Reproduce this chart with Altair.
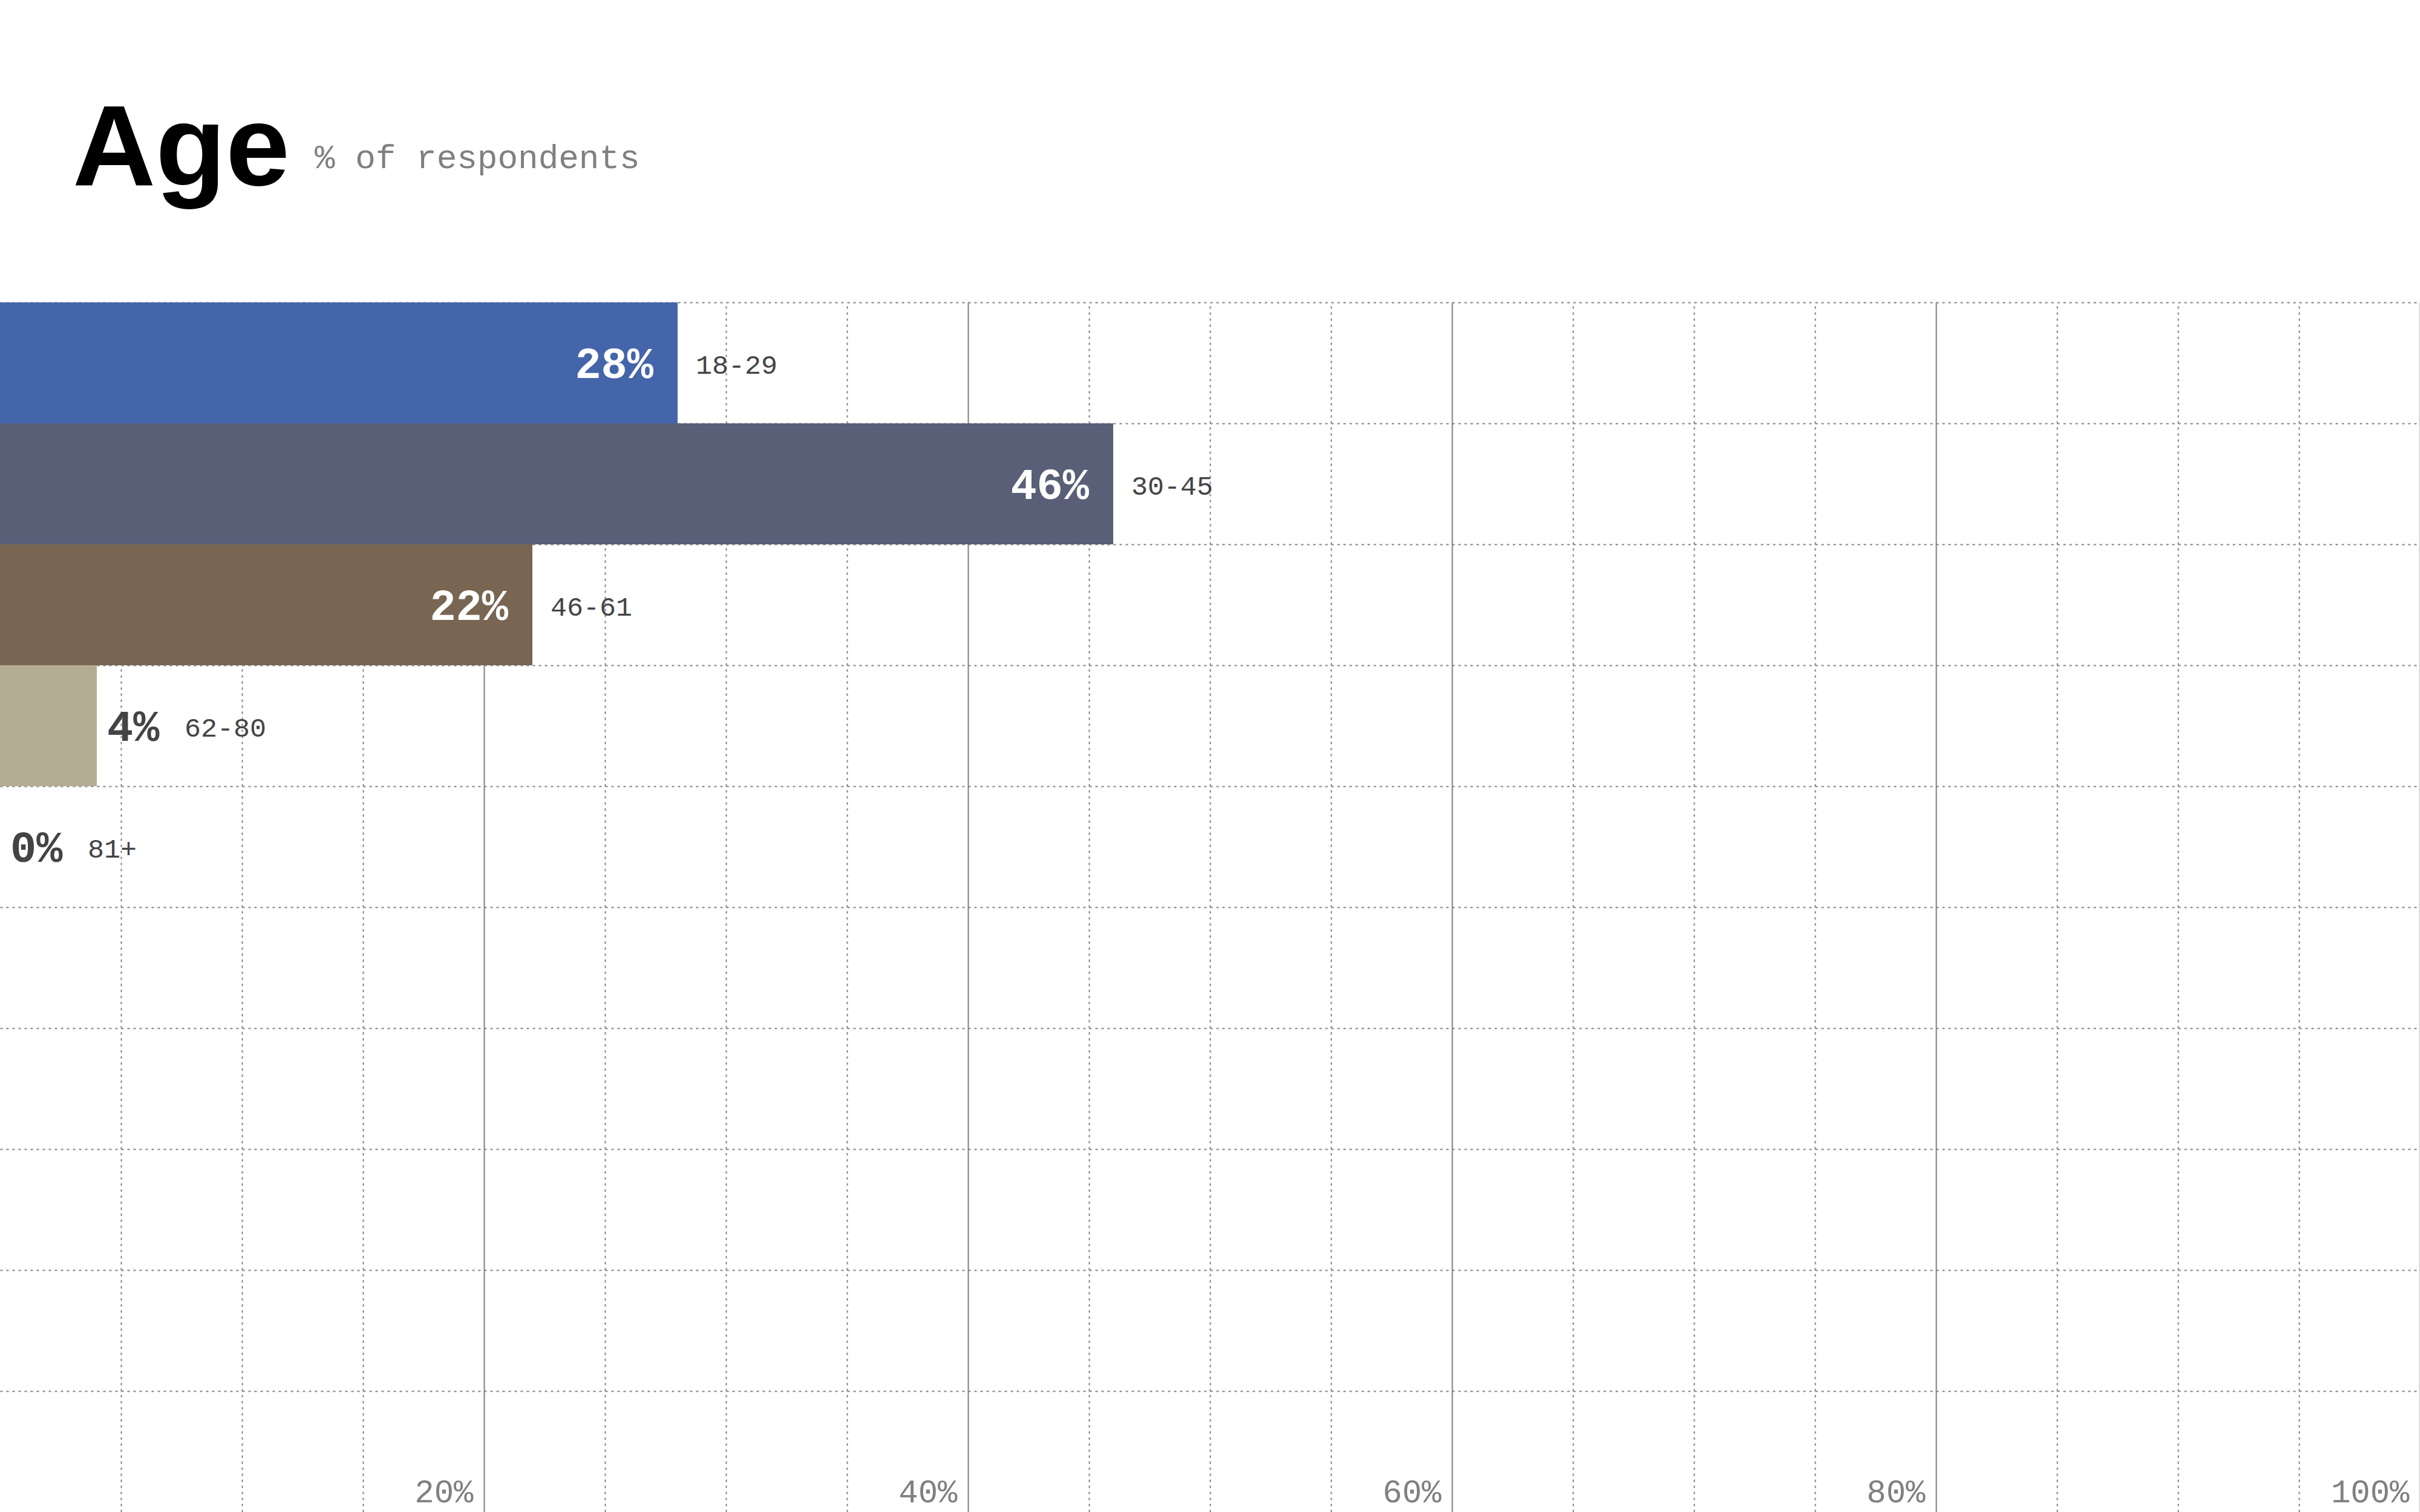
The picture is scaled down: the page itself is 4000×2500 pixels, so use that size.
import altair as alt
import pandas as pd

# ---- data ----
age_groups = ["18-29", "30-45", "46-61", "62-80", "81+"]
shares = [28, 46, 22, 4, 0]
empty_rows = ["row6", "row7", "row8", "row9", "row10"]
x_tick_values = list(range(5, 101, 5))
title_text = "Age"
subtitle_text = "% of respondents"

# ---- styles ----
bar_colors = ["#4465aa", "#585f77", "#786653", "#b4ad93", "#b4ad93"]
MONO = "Liberation Mono"
SANS = "Liberation Sans, Arial, sans-serif"
GRID = "#808080"

df = pd.DataFrame({"age": age_groups, "share": shares})

x_scale = alt.Scale(domain=[0, 100], nice=False, zero=True)
y_scale = alt.Scale(domain=age_groups + empty_rows, paddingInner=0, paddingOuter=0)

x_axis = alt.Axis(
    values=x_tick_values,
    title=None,
    domain=False,
    ticks=False,
    tickSize=0,
    grid=True,
    gridColor=GRID,
    gridWidth=2,
    gridDash={"condition": {"test": "datum.value % 20 === 0", "value": []}, "value": [4, 6]},
    labelExpr="datum.value % 20 === 0 ? datum.value + '%' : ''",
    labelAlign="right",
    labelOffset=-18,
    labelPadding=-17,
    labelBaseline="alphabetic",
    labelFont=MONO,
    labelFontSize=54,
    labelColor="#808080",
    labelFlush=False,
    labelOverlap=False,
    labelBound=False,
)
y_axis = alt.Axis(
    title=None,
    labels=False,
    ticks=False,
    domain=False,
    grid=True,
    bandPosition=0,
    gridDash=[4, 6],
    gridColor=GRID,
    gridWidth=2,
)

base = alt.Chart(df).transform_calculate(label="datum.share + '%'")

bars = base.mark_bar().encode(
    x=alt.X("share:Q", scale=x_scale, axis=x_axis),
    y=alt.Y("age:N", scale=y_scale, axis=y_axis),
    color=alt.Color("age:N", scale=alt.Scale(domain=age_groups, range=bar_colors), legend=None),
)

xy = dict(
    x=alt.X("share:Q", scale=x_scale),
    y=alt.Y("age:N", scale=y_scale),
)

pct_inside = base.transform_filter("datum.share >= 10").mark_text(
    align="right", baseline="alphabetic", dx=-40, dy=25,
    font=MONO, fontWeight="bold", fontSize=72, color="white",
).encode(text="label:N", **xy)

pct_outside = base.transform_filter("datum.share < 10").mark_text(
    align="left", baseline="alphabetic", dx=17, dy=25,
    font=MONO, fontWeight="bold", fontSize=72, color="#444444",
).encode(text="label:N", **xy)

cat_big = base.transform_filter("datum.share >= 10").mark_text(
    align="left", baseline="alphabetic", dx=30, dy=18,
    font=MONO, fontSize=45, color="#444444",
).encode(text="age:N", **xy)

cat_small = base.transform_filter("datum.share < 10").mark_text(
    align="left", baseline="alphabetic", dx=145, dy=18,
    font=MONO, fontSize=45, color="#444444",
).encode(text="age:N", **xy)

title = alt.Chart(pd.DataFrame({"t": [title_text]})).mark_text(
    align="left", baseline="alphabetic", font=SANS, fontWeight="bold",
    fontSize=190, color="#000000",
).encode(x=alt.value(120), y=alt.value(-194), text="t:N")

subtitle = alt.Chart(pd.DataFrame({"t": [subtitle_text]})).mark_text(
    align="left", baseline="alphabetic", font=MONO, fontSize=56, color="#808080",
).encode(x=alt.value(520), y=alt.value(-222), text="t:N")

chart = alt.layer(
    bars, pct_inside, pct_outside, cat_big, cat_small, title, subtitle
).properties(
    width=4000,
    height=2000,
    autosize=alt.AutoSizeParams(type="none"),
    padding={"left": 0, "right": 0, "top": 500, "bottom": 0},
    background="white",
).configure_view(stroke=None)

chart.save("out.html", embed_options={"renderer": "svg", "actions": False})
